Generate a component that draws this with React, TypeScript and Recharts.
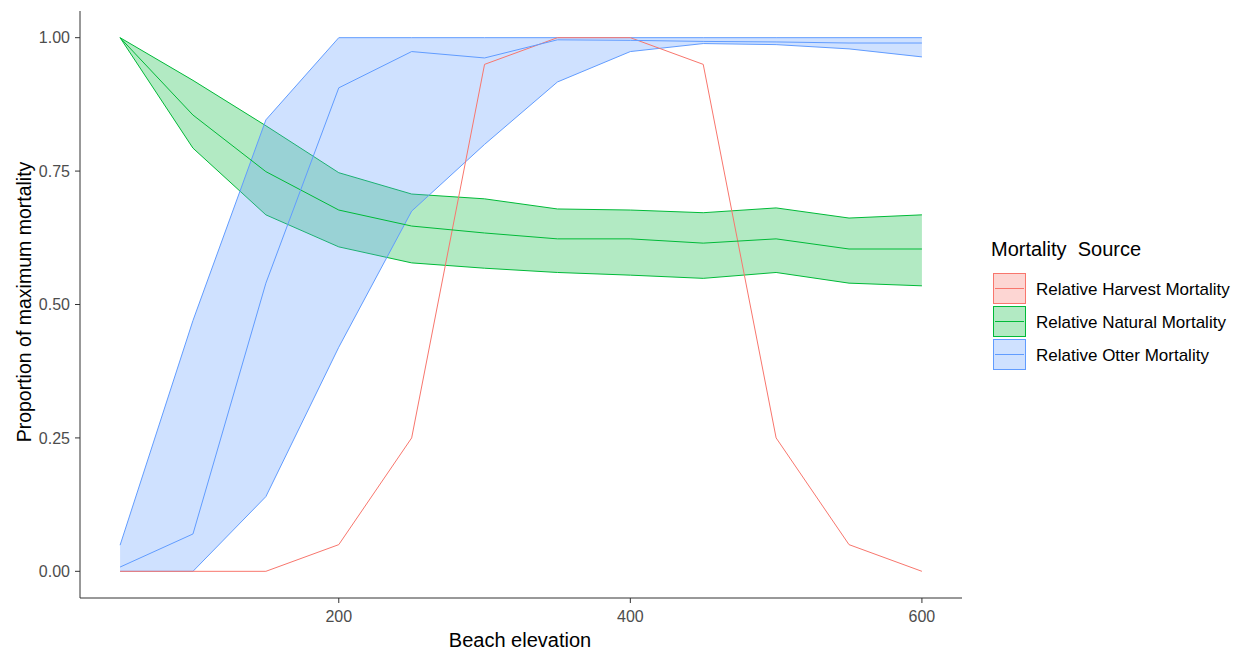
import React from "react";
import {
  ComposedChart,
  Area,
  Line,
  XAxis,
  YAxis,
  Label
} from "recharts";

const elevation = [50, 100, 150, 200, 250, 300, 350, 400, 450, 500, 550, 600];

const harvest = [0, 0, 0, 0.05, 0.25, 0.95, 1, 1, 0.95, 0.25, 0.05, 0];

const naturalMean = [1, 0.855, 0.749, 0.677, 0.647, 0.634, 0.623, 0.623, 0.615, 0.623, 0.604, 0.604];
const naturalLow = [1, 0.793, 0.668, 0.608, 0.578, 0.568, 0.56, 0.555, 0.549, 0.56, 0.54, 0.535];
const naturalHigh = [1, 0.92, 0.835, 0.747, 0.707, 0.698, 0.679, 0.677, 0.672, 0.681, 0.662, 0.668];

const otterMean = [0.008, 0.07, 0.54, 0.906, 0.974, 0.962, 0.996, 0.995, 0.993, 0.992, 0.99, 0.99];
const otterLow = [0, 0, 0.14, 0.42, 0.675, 0.8, 0.917, 0.974, 0.989, 0.987, 0.979, 0.964];
const otterHigh = [0.049, 0.47, 0.846, 1, 1, 1, 1, 1, 1, 1, 1, 1];

const xTicks = [200, 400, 600];
const yTicks = [0, 0.25, 0.5, 0.75, 1];

const seriesNames = [
  "Relative Harvest Mortality",
  "Relative Natural Mortality",
  "Relative Otter Mortality"
];
const seriesColors = ["#F8766D", "#00BA38", "#619CFF"];

const data = elevation.map((x, i) => ({
  elevation: x,
  harvest: harvest[i],
  naturalMean: naturalMean[i],
  naturalRange: [naturalLow[i], naturalHigh[i]],
  otterMean: otterMean[i],
  otterRange: [otterLow[i], otterHigh[i]]
}));

const font = "'Liberation Sans', Arial, sans-serif";
const tickStyle = { fill: "#4D4D4D", fontSize: 16, fontFamily: font };

function LegendBox() {
  return (
    <svg
      width={253}
      height={140}
      style={{ position: "absolute", left: 985, top: 232 }}
    >
      <text
        x={6}
        y={24}
        fontSize={20}
        fontFamily={font}
        fill="#000"
        style={{ whiteSpace: "pre" }}
      >
        {"Mortality  Source"}
      </text>
      {seriesNames.map((name, i) => {
        const y = 41 + i * 33;
        return (
          <g key={name}>
            <rect
              x={8.5}
              y={y + 0.5}
              width={32}
              height={30}
              fill={seriesColors[i]}
              fillOpacity={0.3}
              stroke={seriesColors[i]}
              strokeWidth={1}
            />
            <line
              x1={10}
              x2={39}
              y1={y + 15.5}
              y2={y + 15.5}
              stroke={seriesColors[i]}
              strokeWidth={1}
            />
            <text x={51} y={y + 22} fontSize={17} fontFamily={font} fill="#000">
              {name}
            </text>
          </g>
        );
      })}
    </svg>
  );
}

export default function App() {
  return (
    <div
      style={{
        position: "absolute",
        left: 0,
        top: 0,
        width: 1238,
        height: 651,
        background: "#fff"
      }}
    >
      <ComposedChart
        width={1238}
        height={651}
        data={data}
        margin={{ top: 11, right: 276, bottom: 23, left: 30 }}
      >
        <XAxis
          dataKey="elevation"
          type="number"
          domain={[22.5, 627.5]}
          ticks={xTicks}
          allowDataOverflow
          height={30}
          tickSize={5}
          tickMargin={8}
          tick={tickStyle}
          stroke="#333"
          tickLine={{ stroke: "#333" }}
        >
          <Label
            content={() => (
              <text
                x={520}
                y={647}
                textAnchor="middle"
                fontSize={20}
                fontFamily={font}
                fill="#000"
              >
                Beach elevation
              </text>
            )}
          />
        </XAxis>
        <YAxis
          type="number"
          domain={[-0.05, 1.05]}
          ticks={yTicks}
          allowDataOverflow
          width={50}
          tickSize={5}
          tickMargin={5}
          tick={tickStyle}
          tickFormatter={(v: number) => v.toFixed(2)}
          stroke="#333"
          tickLine={{ stroke: "#333" }}
        >
          <Label
            content={() => (
              <text
                x={31}
                y={302}
                transform="rotate(-90 31 302)"
                textAnchor="middle"
                fontSize={19.5}
                fontFamily={font}
                fill="#000"
              >
                Proportion of maximum mortality
              </text>
            )}
          />
        </YAxis>
        <Area
          dataKey="naturalRange"
          type="linear"
          fill={seriesColors[1]}
          fillOpacity={0.3}
          stroke={seriesColors[1]}
          strokeWidth={1}
          isAnimationActive={false}
          dot={false}
          activeDot={false}
        />
        <Area
          dataKey="otterRange"
          type="linear"
          fill={seriesColors[2]}
          fillOpacity={0.3}
          stroke={seriesColors[2]}
          strokeWidth={1}
          isAnimationActive={false}
          dot={false}
          activeDot={false}
        />
        <Line
          dataKey="harvest"
          type="linear"
          stroke={seriesColors[0]}
          strokeWidth={1}
          dot={false}
          activeDot={false}
          isAnimationActive={false}
        />
        <Line
          dataKey="naturalMean"
          type="linear"
          stroke={seriesColors[1]}
          strokeWidth={1}
          dot={false}
          activeDot={false}
          isAnimationActive={false}
        />
        <Line
          dataKey="otterMean"
          type="linear"
          stroke={seriesColors[2]}
          strokeWidth={1}
          dot={false}
          activeDot={false}
          isAnimationActive={false}
        />
      </ComposedChart>
      <LegendBox />
    </div>
  );
}
